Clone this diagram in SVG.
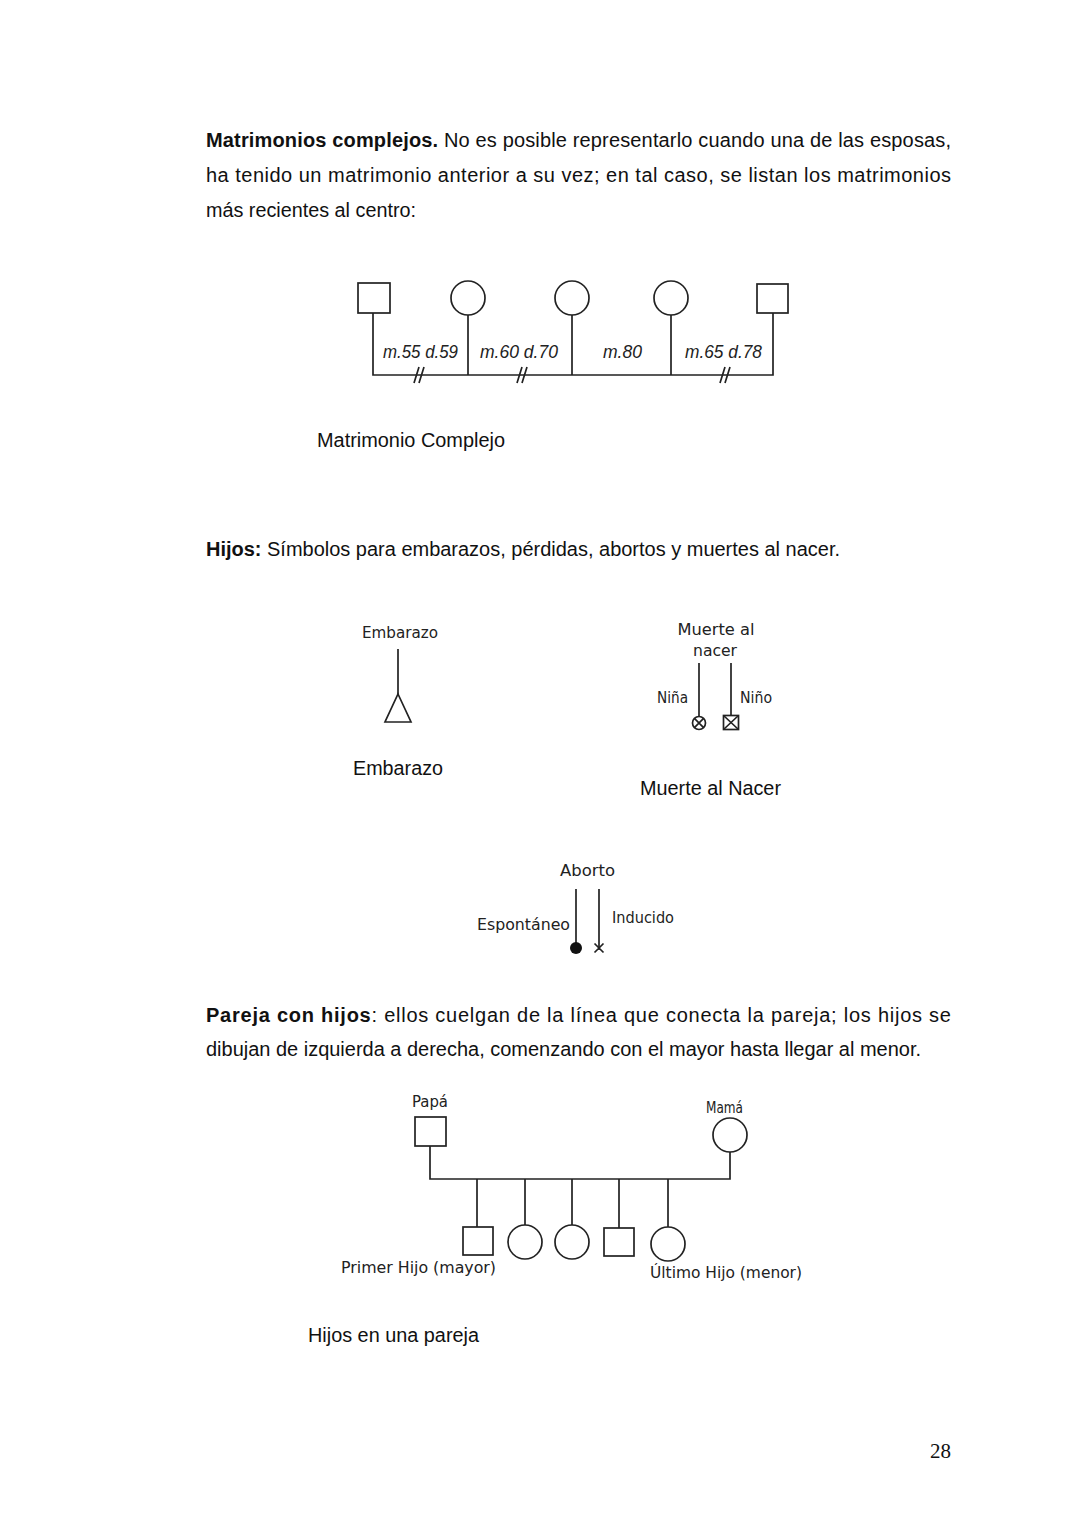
<svg xmlns="http://www.w3.org/2000/svg" width="1080" height="1527" viewBox="0 0 1080 1527">
<style>
.body{font-family:"Liberation Sans",Arial,sans-serif;font-size:20px;fill:#111}
.b{font-weight:bold}
.lbl{font-family:"DejaVu Sans","Liberation Sans",sans-serif;font-size:16px;fill:#222}
.ml{font-family:"Liberation Sans",Arial,sans-serif;font-style:italic;font-size:18px;fill:#222}
.shape{fill:#fff;stroke:#222;stroke-width:1.7}
.ln{fill:none;stroke:#222;stroke-width:1.7}
.pg{font-family:"Liberation Serif","Times New Roman",serif;font-size:21px;fill:#111}
</style>
<rect width="1080" height="1527" fill="#fff"/>

<!-- Paragraph 1 -->
<text class="body" x="206" y="147" textLength="745" lengthAdjust="spacing"><tspan class="b">Matrimonios complejos.</tspan> No es posible representarlo cuando una de las esposas,</text>
<text class="body" x="206" y="182" textLength="745" lengthAdjust="spacing">ha tenido un matrimonio anterior a su vez; en tal caso, se listan los matrimonios</text>
<text class="body" x="206" y="217" textLength="210" lengthAdjust="spacingAndGlyphs">más recientes al centro:</text>

<!-- Diagram 1: complex marriage -->
<g id="connectors1">
<path class="ln" d="M373 313V375H773V313M468 315V375M572 315V375M671 315V375"/>
<path class="ln" d="M414 383L419 367M419 383L424 367M517 383L522 367M522 383L527 367M720 383L725 367M725 383L730 367"/>
</g>
<g id="m1-man"><rect class="shape" x="358" y="283" width="32" height="30"/></g>
<g id="m1-woman1"><circle class="shape" cx="468" cy="298" r="17"/></g>
<g id="m1-woman2"><circle class="shape" cx="572" cy="298" r="17"/></g>
<g id="m1-woman3"><circle class="shape" cx="671" cy="298" r="17"/></g>
<g id="m1-man2"><rect class="shape" x="757" y="284" width="31" height="29"/></g>
<g id="m1-labels">
<text class="ml" x="383" y="358" textLength="75" lengthAdjust="spacingAndGlyphs">m.55 d.59</text>
<text class="ml" x="480" y="358" textLength="78" lengthAdjust="spacingAndGlyphs">m.60 d.70</text>
<text class="ml" x="603" y="358" textLength="39" lengthAdjust="spacingAndGlyphs">m.80</text>
<text class="ml" x="685" y="358" textLength="77" lengthAdjust="spacingAndGlyphs">m.65 d.78</text>
</g>
<text class="body" x="317" y="447" textLength="188" lengthAdjust="spacingAndGlyphs">Matrimonio Complejo</text>

<!-- Paragraph 2 -->
<text class="body" x="206" y="556" textLength="634" lengthAdjust="spacingAndGlyphs"><tspan class="b">Hijos:</tspan> Símbolos para embarazos, pérdidas, abortos y muertes al nacer.</text>

<!-- Embarazo -->
<g id="embarazo">
<text class="lbl" x="362" y="638" textLength="76" lengthAdjust="spacingAndGlyphs">Embarazo</text>
<line class="ln" x1="398" y1="649" x2="398" y2="694"/>
<polygon class="shape" points="398,694 411,722 385,722"/>
</g>
<text class="body" x="353" y="775" textLength="90" lengthAdjust="spacingAndGlyphs">Embarazo</text>

<!-- Muerte al nacer -->
<g id="muerte">
<text class="lbl" x="716" y="635" text-anchor="middle" textLength="77" lengthAdjust="spacingAndGlyphs">Muerte al</text>
<text class="lbl" x="715" y="656" text-anchor="middle" textLength="44" lengthAdjust="spacingAndGlyphs">nacer</text>
<text class="lbl" x="657" y="703" textLength="31" lengthAdjust="spacingAndGlyphs">Niña</text>
<text class="lbl" x="740" y="703" textLength="32" lengthAdjust="spacingAndGlyphs">Niño</text>
<line class="ln" x1="699" y1="663" x2="699" y2="717"/>
<line class="ln" x1="731" y1="663" x2="731" y2="715"/>
<circle class="shape" cx="699" cy="723" r="6.5"/>
<path class="ln" d="M694.4 718.4L703.6 727.6M703.6 718.4L694.4 727.6" stroke-width="1.3"/>
<rect class="shape" x="723.5" y="715.5" width="15" height="14"/>
<path class="ln" d="M723.5 715.5L738.5 729.5M738.5 715.5L723.5 729.5" stroke-width="1.3"/>
</g>
<text class="body" x="640" y="795" textLength="141" lengthAdjust="spacingAndGlyphs">Muerte al Nacer</text>

<!-- Aborto -->
<g id="aborto">
<text class="lbl" x="560" y="876" textLength="55" lengthAdjust="spacingAndGlyphs">Aborto</text>
<text class="lbl" x="477" y="930" textLength="93" lengthAdjust="spacingAndGlyphs">Espontáneo</text>
<text class="lbl" x="612" y="923" textLength="62" lengthAdjust="spacingAndGlyphs">Inducido</text>
<line class="ln" x1="576" y1="889" x2="576" y2="944"/>
<circle cx="576" cy="948" r="6" fill="#111"/>
<line class="ln" x1="599" y1="889" x2="599" y2="950"/>
<path class="ln" d="M594.5 943.5L603.5 952.5M603.5 943.5L594.5 952.5" stroke-width="1.3"/>
</g>

<!-- Paragraph 3 -->
<text class="body" x="206" y="1022" textLength="745" lengthAdjust="spacing"><tspan class="b">Pareja con hijos</tspan>: ellos cuelgan de la línea que conecta la pareja; los hijos se</text>
<text class="body" x="206" y="1056" textLength="715" lengthAdjust="spacingAndGlyphs">dibujan de izquierda a derecha, comenzando con el mayor hasta llegar al menor.</text>

<!-- Diagram: couple with children -->
<g id="connectors2">
<path class="ln" d="M430 1146V1179H730V1152M477 1179V1227M525 1179V1225M572 1179V1225M619 1179V1228M668 1179V1227"/>
</g>
<g id="papa">
<text class="lbl" x="412" y="1107" textLength="36" lengthAdjust="spacingAndGlyphs">Papá</text>
<rect class="shape" x="415" y="1117" width="31" height="29"/>
</g>
<g id="mama">
<text class="lbl" x="706" y="1113" textLength="37" lengthAdjust="spacingAndGlyphs">Mamá</text>
<circle class="shape" cx="730" cy="1135" r="17"/>
</g>
<g id="hijo1"><rect class="shape" x="463" y="1227" width="30" height="28"/></g>
<g id="hijo2"><circle class="shape" cx="525" cy="1242" r="17"/></g>
<g id="hijo3"><circle class="shape" cx="572" cy="1242" r="17"/></g>
<g id="hijo4"><rect class="shape" x="604" y="1228" width="30" height="28"/></g>
<g id="hijo5"><circle class="shape" cx="668" cy="1244" r="17"/></g>
<text class="lbl" x="341" y="1273" textLength="155" lengthAdjust="spacingAndGlyphs">Primer Hijo (mayor)</text>
<text class="lbl" x="650" y="1278" textLength="152" lengthAdjust="spacingAndGlyphs">Último Hijo (menor)</text>
<text class="body" x="308" y="1342" textLength="171" lengthAdjust="spacingAndGlyphs">Hijos en una pareja</text>

<text class="pg" x="951" y="1458" text-anchor="end">28</text>
</svg>
